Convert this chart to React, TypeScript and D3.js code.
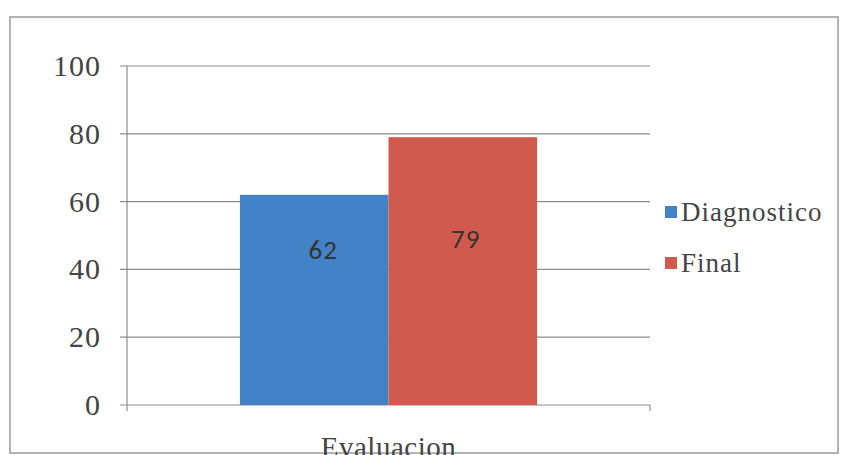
import React from "react";
import * as d3 from "d3";

const categories = ["Evaluacion"];
const seriesNames = ["Diagnostico", "Final"];
const seriesValues = [62, 79];
const labelAnchors = [46, 49];
const yTicks = [0, 20, 40, 60, 80, 100];
const colors = ["#4382c6", "#d15a4f"];

export default function App() {
  const W = 843, H = 455;
  const left = 127, right = 650, top = 66, bottom = 405;
  const y = d3.scaleLinear().domain([0, 100]).range([bottom, top]);
  const x0 = d3.scaleBand().domain(categories).range([left, right]).paddingInner(0).paddingOuter(0.38);
  const x1 = d3.scaleBand().domain(seriesNames).range([0, x0.bandwidth()]).padding(0);
  const serif = "Times New Roman, Liberation Serif, serif";
  const sans = "Carlito, Calibri, Lato, 'Open Sans', sans-serif";
  const grid = "#8c8c8c";
  return (
    <svg width={W} height={H} style={{ position: "absolute", left: 0, top: 0, background: "#fff" }}>
      <rect x={10} y={17} width={828} height={436} fill="#fff" stroke="#9a9a9a" strokeWidth={1.5} />
      {yTicks.map((t) => (
        <g key={t}>
          <line x1={left - 7} x2={right} y1={y(t)} y2={y(t)} stroke={grid} strokeWidth={1.2} />
          <text x={101} y={y(t)} dy="0.33em" textAnchor="end" fontFamily={serif} fontSize={30} letterSpacing={1} fill="#444">
            {t}
          </text>
        </g>
      ))}
      <line x1={left} x2={left} y1={top} y2={bottom + 6} stroke={grid} strokeWidth={1.2} />
      <line x1={right} x2={right} y1={bottom} y2={bottom + 6} stroke={grid} strokeWidth={1.2} />
      {categories.map((c) => (
        <g key={c} transform={`translate(${x0(c)},0)`}>
          {seriesNames.map((s, i) => (
            <rect key={s} x={x1(s)} y={y(seriesValues[i])} width={x1.bandwidth()} height={y(0) - y(seriesValues[i])} fill={colors[i]} />
          ))}
          {seriesNames.map((s, i) => (
            <text key={s + "l"} x={(x1(s) as number) + x1.bandwidth() / 2 + 9 - i * 6} y={y(labelAnchors[i])} dy="0.35em" textAnchor="middle" fontFamily={sans} fontSize={27} fontWeight={500} letterSpacing={1} fill="#333">
              {seriesValues[i]}
            </text>
          ))}
        </g>
      ))}
      {categories.map((c) => (
        <text key={c} x={(x0(c) as number) + x0.bandwidth() / 2} y={457} textAnchor="middle" fontFamily={serif} fontSize={29} letterSpacing={0.5} fill="#444">
          {c}
        </text>
      ))}
      {seriesNames.map((s, i) => (
        <g key={s} transform={`translate(665,${212 + i * 51})`}>
          <rect x={0} y={-6} width={12} height={12} fill={colors[i]} />
          <text x={16} y={0} dy="0.35em" fontFamily={serif} fontSize={27} letterSpacing={1} fill="#444">
            {s}
          </text>
        </g>
      ))}
    </svg>
  );
}
